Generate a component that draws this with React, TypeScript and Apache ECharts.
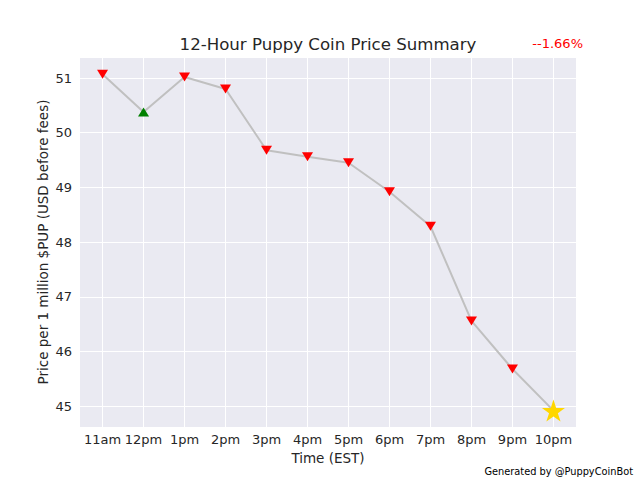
import React, { useEffect, useRef } from "react";
import * as echarts from "echarts";

// Hourly $PUP price, 11am to 10pm (EST)
const hours = ["11am", "12pm", "1pm", "2pm", "3pm", "4pm", "5pm", "6pm", "7pm", "8pm", "9pm", "10pm"];
const prices = [51.07, 50.38, 51.02, 50.8, 49.68, 49.56, 49.45, 48.92, 48.29, 46.56, 45.68, 44.92];
// marker kind per hour: "down", "up", or "now" for the latest reading
const moves = ["down", "up", "down", "down", "down", "down", "down", "down", "down", "down", "down", "now"];
const yTicks = [45, 46, 47, 48, 49, 50, 51];
const lastChange = "--1.66%";

const STAR =
  "path://M0,-1 L0.2245,-0.309 L0.9511,-0.309 L0.3633,0.118 L0.5878,0.809 L0,0.382 L-0.5878,0.809 L-0.3633,0.118 L-0.9511,-0.309 L-0.2245,-0.309 Z";

const TEXT = "#262626";
const FONT = "DejaVu Sans";

export default function App() {
  const ref = useRef<HTMLDivElement>(null);

  useEffect(() => {
    if (!ref.current) return;
    const chart = echarts.init(ref.current, undefined, { renderer: "svg" });

    const points = prices.map((p, i) => [i, p]);
    const markerData = prices.map((p, i) => {
      const m = moves[i];
      if (m === "now") {
        return { value: [i, p], symbol: STAR, symbolSize: [23, 22], symbolRotate: 0, itemStyle: { color: "#FFD700", opacity: 1 } };
      }
      if (m === "up") {
        return { value: [i, p], symbol: "triangle", symbolSize: [11, 9], symbolRotate: 0, itemStyle: { color: "#008000", opacity: 1 } };
      }
      return { value: [i, p], symbol: "triangle", symbolSize: [11, 9], symbolRotate: 180, itemStyle: { color: "#FF0000", opacity: 1 } };
    });

    const xIdx = hours.map((_, i) => i);

    chart.setOption({
      animation: false,
      backgroundColor: "#ffffff",
      textStyle: { fontFamily: FONT },
      grid: {
        left: 80,
        right: 64,
        top: 58,
        bottom: 53,
        show: true,
        backgroundColor: "#EAEAF2",
        borderWidth: 0,
      },
      graphic: [
        {
          type: "text",
          x: 328,
          y: 44,
          style: {
            text: "12-Hour Puppy Coin Price Summary",
            fill: TEXT,
            fontFamily: FONT,
            fontSize: 16.6,
            align: "center",
            verticalAlign: "middle",
          },
        },
        {
          type: "text",
          x: 328,
          y: 458,
          style: {
            text: "Time (EST)",
            fill: TEXT,
            fontFamily: FONT,
            fontSize: 13.5,
            align: "center",
            verticalAlign: "middle",
          },
        },
        {
          type: "text",
          x: 43,
          y: 242,
          rotation: Math.PI / 2,
          style: {
            text: "Price per 1 million $PUP (USD before fees)",
            fill: TEXT,
            fontFamily: FONT,
            fontSize: 13.5,
            align: "center",
            verticalAlign: "middle",
          },
        },
        {
          type: "text",
          x: 583,
          y: 43,
          style: {
            text: lastChange,
            fill: "#FF0000",
            fontFamily: FONT,
            fontSize: 13,
            align: "right",
            verticalAlign: "middle",
          },
        },
        {
          type: "text",
          x: 633,
          y: 471,
          style: {
            text: "Generated by @PuppyCoinBot",
            fill: "#000000",
            fontFamily: FONT,
            fontSize: 9.8,
            align: "right",
            verticalAlign: "middle",
          },
        },
      ],
      xAxis: {
        type: "value",
        min: -0.55,
        max: 11.55,
        axisLine: { show: false },
        axisTick: { show: false, customValues: xIdx },
        axisLabel: {
          customValues: xIdx,
          formatter: (v: number) => hours[Math.round(v)] ?? "",
          fontFamily: FONT,
          fontSize: 13,
          color: TEXT,
          margin: 6,
        },
        splitLine: { show: true, lineStyle: { color: "#ffffff", width: 1 } },
      },
      yAxis: {
        type: "value",
        min: 44.62,
        max: 51.366,
        axisLine: { show: false },
        axisTick: { show: false, customValues: yTicks },
        axisLabel: {
          customValues: yTicks,
          fontFamily: FONT,
          fontSize: 13,
          color: TEXT,
          margin: 8,
        },
        splitLine: { show: true, lineStyle: { color: "#ffffff", width: 1 } },
      },
      series: [
        {
          type: "line",
          data: points,
          showSymbol: false,
          symbol: "none",
          lineStyle: { color: "#C0C0C0", width: 2 },
          z: 2,
        },
        {
          type: "scatter",
          data: markerData,
          itemStyle: { opacity: 1 },
          z: 3,
        },
      ],
    });

    return () => chart.dispose();
  }, []);

  return <div ref={ref} style={{ width: 640, height: 480, position: "absolute", left: 0, top: 0 }} />;
}
